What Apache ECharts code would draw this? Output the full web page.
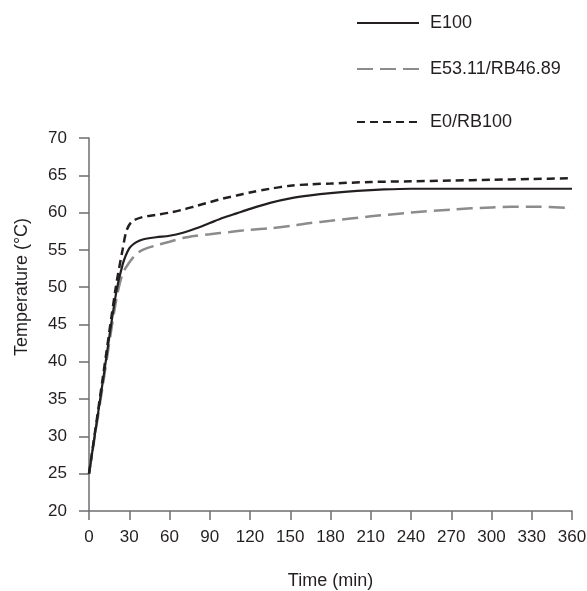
<!DOCTYPE html>
<html>
<head>
<meta charset="utf-8">
<script src="https://cdn.jsdelivr.net/npm/echarts@6/dist/echarts.min.js"></script>
<style>
  html, body { margin: 0; padding: 0; background: #fff; }
  #chart-1 { width: 587px; height: 591px; }
</style>
</head>
<body>
<div id="chart-1"></div>
<script>
// valores (tiempo en min, temperatura en °C)
var nombres = ['E100', 'E53.11/RB46.89', 'E0/RB100'];

var tE100 = [0, 10, 20, 25, 30, 35, 40, 50, 60, 70, 80, 90, 100, 110, 120, 135, 150, 165, 180, 200, 220, 240, 270, 300, 330, 360];
var vE100 = [25, 37, 49, 53, 55.2, 56.0, 56.4, 56.7, 56.9, 57.3, 57.9, 58.6, 59.3, 59.9, 60.5, 61.3, 61.9, 62.3, 62.6, 62.9, 63.1, 63.2, 63.2, 63.2, 63.2, 63.2];

var tMezcla = [0, 10, 20, 25, 30, 35, 40, 50, 60, 70, 80, 90, 105, 120, 135, 150, 165, 180, 210, 240, 270, 300, 330, 360];
var vMezcla = [25, 36.5, 48, 51.8, 53.3, 54.4, 55.0, 55.6, 56.1, 56.6, 56.9, 57.1, 57.4, 57.7, 57.9, 58.2, 58.6, 58.9, 59.5, 60.0, 60.4, 60.7, 60.8, 60.6];

var tRB100 = [0, 10, 20, 25, 28, 32, 40, 50, 60, 70, 80, 90, 100, 110, 120, 135, 150, 165, 180, 210, 240, 270, 300, 330, 360];
var vRB100 = [25, 37.5, 50, 55, 57.6, 58.8, 59.4, 59.7, 60.0, 60.4, 60.9, 61.4, 61.9, 62.3, 62.7, 63.2, 63.6, 63.8, 63.9, 64.1, 64.2, 64.3, 64.4, 64.5, 64.6];

var xTicks = [0, 360, 30];   // min, max, intervalo
var yTicks = [20, 70, 5];

var fuente = "'Liberation Sans', Arial, sans-serif";

function pares(t, v) {
  var out = [];
  for (var i = 0; i < t.length; i++) out.push([t[i], v[i]]);
  return out;
}

function leyenda(nombre, arriba) {
  return {
    data: [nombre],
    left: 356,
    top: arriba,
    padding: 0,
    itemWidth: 62,
    itemHeight: 18,
    selectedMode: false,
    itemStyle: { opacity: 0 },   // sin circulo, solo la linea
    textStyle: { fontFamily: fuente, fontSize: 18, color: '#231f20', padding: [0, 0, 0, 6] }
  };
}

const getOptionChart1 = () => {
  return {
    animation: false,
    backgroundColor: '#fff',
    legend: [
      leyenda(nombres[0], 14),
      leyenda(nombres[1], 60),
      leyenda(nombres[2], 113)
    ],
    grid: { left: 89, right: 15, top: 138, bottom: 80, outerBoundsMode: 'none', containLabel: false },
    xAxis: {
      type: 'value',
      min: xTicks[0], max: xTicks[1], interval: xTicks[2],
      name: 'Time (min)',
      nameLocation: 'middle',
      nameGap: 61,
      nameTextStyle: { fontFamily: fuente, fontSize: 18, color: '#231f20' },
      axisLine: { lineStyle: { color: '#6d6e71', width: 1.5 } },
      axisTick: { length: 9, lineStyle: { color: '#6d6e71', width: 1.5 } },
      axisLabel: { margin: 18, fontFamily: fuente, fontSize: 17, color: '#231f20' },
      splitLine: { show: false }
    },
    yAxis: {
      type: 'value',
      min: yTicks[0], max: yTicks[1], interval: yTicks[2],
      name: 'Temperature (°C)',
      nameLocation: 'middle',
      nameGap: 58,
      nameTextStyle: { fontFamily: fuente, fontSize: 18, color: '#231f20', padding: [0, 0, 0, 75] },
      axisLine: { show: true, lineStyle: { color: '#6d6e71', width: 1.5 } },
      axisTick: { show: true, length: 10, lineStyle: { color: '#6d6e71', width: 1.5 } },
      axisLabel: { margin: 22, fontFamily: fuente, fontSize: 17, color: '#231f20' },
      splitLine: { show: false }
    },
    series: [
      {
        name: nombres[0],
        type: 'line',
        data: pares(tE100, vE100),
        symbol: 'none',
        smooth: 0.3,
        lineStyle: { color: '#231f20', width: 2.2 },
        itemStyle: { color: '#231f20' },
        z: 3
      },
      {
        name: nombres[1],
        type: 'line',
        data: pares(tMezcla, vMezcla),
        symbol: 'none',
        smooth: 0.3,
        lineStyle: { color: '#8c8c8c', width: 2.5, type: [16, 7] },
        itemStyle: { color: '#8c8c8c' },
        z: 2
      },
      {
        name: nombres[2],
        type: 'line',
        data: pares(tRB100, vRB100),
        symbol: 'none',
        smooth: 0.3,
        lineStyle: { color: '#231f20', width: 2.5, type: [8, 5] },
        itemStyle: { color: '#231f20' },
        z: 2
      }
    ]
  };
};

const initCharts = () => {
  const chart1 = echarts.init(document.getElementById('chart-1'));
  chart1.setOption(getOptionChart1());
};

initCharts();
</script>
</body>
</html>
